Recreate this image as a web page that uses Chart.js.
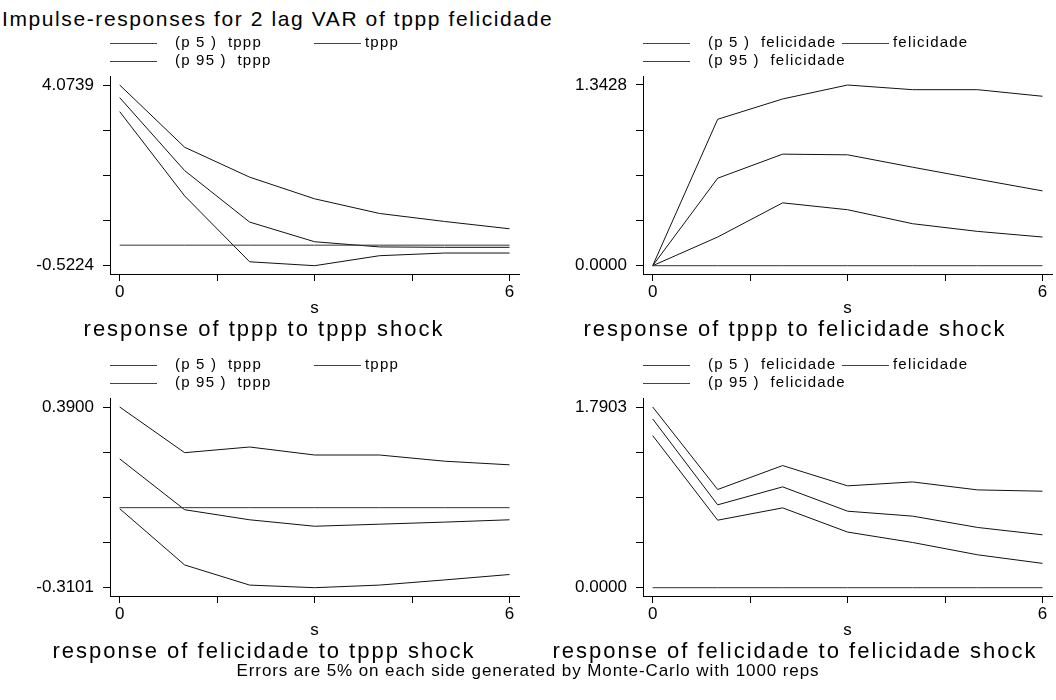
<!DOCTYPE html>
<html lang="en">
<head>
  <meta charset="UTF-8">
  <title>Impulse-responses for 2 lag VAR of tppp felicidade</title>
  <style>
    body {
      margin: 0;
      background: #fff;
    }
    #page {
      position: relative;
      width: 1056px;
      height: 700px;
      overflow: hidden;
      background: #fff;
      font-family: "Liberation Sans", Arial, sans-serif;
      color: #000;
    }
    .txt {
      position: absolute;
      white-space: pre;
      line-height: 1;
    }
    .key {
      position: absolute;
      height: 0;
      border-top: 1px solid #444;
    }
    canvas {
      position: absolute;
    }
  </style>
  <script src="https://cdn.jsdelivr.net/npm/chart.js"></script>
</head>
<body>
  <div id="page"></div>

  <script>
    // horizon steps and axis ticks
    const steps = [0, 1, 2, 3, 4, 5, 6];
    const xTicks = [0, 1.5, 3, 4.5, 6];
    const zeroLine = [0, 0, 0, 0, 0, 0, 0];

    // response of tppp to tppp shock
    const tpppTppp_p5 = [3.396, 1.252, -0.423, -0.5224, -0.268, -0.200, -0.200];
    const tpppTppp_irf = [3.752, 1.896, 0.587, 0.087, -0.045, -0.055, -0.055];
    const tpppTppp_p95 = [4.0739, 2.490, 1.730, 1.179, 0.806, 0.603, 0.417];
    const tpppTppp_range = [-0.5224, 4.0739];

    // response of tppp to felicidade shock
    const tpppFel_p5 = [0, 0.213, 0.467, 0.416, 0.312, 0.255, 0.213];
    const tpppFel_irf = [0, 0.650, 0.829, 0.824, 0.732, 0.643, 0.556];
    const tpppFel_p95 = [0, 1.088, 1.239, 1.3428, 1.308, 1.308, 1.259];
    const tpppFel_range = [0, 1.3428];

    // response of felicidade to tppp shock
    const felTppp_p5 = [-0.004, -0.222, -0.300, -0.3101, -0.300, -0.280, -0.259];
    const felTppp_irf = [0.189, -0.008, -0.047, -0.072, -0.064, -0.056, -0.047];
    const felTppp_p95 = [0.3900, 0.213, 0.235, 0.204, 0.204, 0.180, 0.166];
    const felTppp_range = [-0.3101, 0.3900];

    // response of felicidade to felicidade shock
    const felFel_p5 = [1.507, 0.669, 0.791, 0.551, 0.448, 0.326, 0.241];
    const felFel_irf = [1.672, 0.821, 0.999, 0.758, 0.709, 0.597, 0.524];
    const felFel_p95 = [1.7903, 0.973, 1.210, 1.009, 1.048, 0.969, 0.956];
    const felFel_range = [0, 1.7903];

    const page = document.getElementById("page");
    const FONT = '"Liberation Sans", Arial, sans-serif';

    // place a line of text by its baseline
    function addText(str, x, baseline, size, spacing, align) {
      const d = document.createElement("div");
      d.className = "txt";
      d.textContent = str;
      d.style.fontSize = size + "px";
      d.style.letterSpacing = spacing + "px";
      d.style.top = (baseline - 0.8465 * size) + "px";
      d.style.left = x + "px";
      if (align === "center") d.style.transform = "translateX(-50%)";
      page.appendChild(d);
    }

    function addKey(x1, x2, y) {
      const k = document.createElement("div");
      k.className = "key";
      k.style.left = x1 + "px";
      k.style.width = (x2 - x1) + "px";
      k.style.top = y + "px";
      page.appendChild(k);
    }

    function addLegend(varName, x0, y0) {
      addKey(x0, x0 + 47, y0);
      addText("(p 5 )  " + varName, x0 + 65, y0 + 4, 15, 1.2);
      addKey(x0, x0 + 47, y0 + 18);
      addText("(p 95 )  " + varName, x0 + 65, y0 + 22, 15, 1.2);
      const c2 = varName === "tppp" ? x0 + 204 : x0 + 199;
      addKey(c2, c2 + 47, y0);
      addText(varName, c2 + 51, y0 + 4, 15, 1.2);
    }

    function yTicksFrom(range) {
      const step = (range[1] - range[0]) / 4;
      return [0, 1, 2, 3, 4].map(i => range[0] + i * step);
    }

    function makePanel(p) {
      const cLeft = p.area.l - 110;
      const cTop = p.area.t - 10;
      const w = p.area.r - cLeft + 4;
      const h = p.area.b - cTop + 40;
      const cv = document.createElement("canvas");
      cv.width = w;
      cv.height = h;
      cv.style.left = cLeft + "px";
      cv.style.top = cTop + "px";
      cv.style.width = w + "px";
      cv.style.height = h + "px";
      page.appendChild(cv);

      const areaW = p.area.r - p.area.l;
      const areaH = p.area.b - p.area.t;
      const xppu = (areaW - 9.7 - 9.5) / 6;
      const lo = p.range[0], hi = p.range[1];
      const yppu = (areaH - 9 - 8.3) / (hi - lo);

      const ds = (vals, color) => ({
        data: steps.map((s, i) => ({ x: s, y: vals[i] })),
        borderColor: color,
        borderWidth: 1,
        pointRadius: 0,
        fill: false,
        tension: 0
      });

      const tickFont = { family: FONT, size: 17 };

      new Chart(cv, {
        type: "line",
        data: {
          datasets: [
            ds(zeroLine, "#333"),
            ds(p.p5, "#111"),
            ds(p.irf, "#111"),
            ds(p.p95, "#111")
          ]
        },
        options: {
          responsive: false,
          animation: false,
          devicePixelRatio: 1,
          layout: { padding: { left: 0, top: 10, right: 4, bottom: 0 } },
          plugins: {
            legend: { display: false },
            tooltip: { enabled: false }
          },
          scales: {
            x: {
              type: "linear",
              min: -9.7 / xppu,
              max: 6 + 9.5 / xppu,
              afterBuildTicks: s => { s.ticks = xTicks.map(v => ({ value: v })); },
              afterFit: s => {
                s.height = 40;
                s.paddingLeft = 0;
                s.paddingRight = 0;
              },
              grid: { drawOnChartArea: false, drawTicks: true, tickLength: 7, color: "#000", tickColor: "#000" },
              border: { display: true, color: "#000", width: 1 },
              ticks: {
                autoSkip: false,
                maxRotation: 0,
                padding: 1,
                color: "#000",
                font: tickFont,
                callback: (v, i, t) => (i === 0 || i === t.length - 1) ? String(v) : ""
              }
            },
            y: {
              min: lo - 8.3 / yppu,
              max: hi + 9 / yppu,
              afterBuildTicks: s => { s.ticks = yTicksFrom(p.range).map(v => ({ value: v })); },
              afterFit: s => {
                s.width = 110;
                s.paddingTop = 0;
                s.paddingBottom = 0;
              },
              grid: { drawOnChartArea: false, drawTicks: true, tickLength: 7, color: "#000", tickColor: "#000" },
              border: { display: true, color: "#000", width: 1 },
              ticks: {
                autoSkip: false,
                padding: 9,
                color: "#000",
                font: tickFont,
                callback: (v, i, t) => (i === 0 || i === t.length - 1) ? v.toFixed(4) : ""
              }
            }
          }
        }
      });

      // axis title and panel subtitle
      const mid = p.area.l + 9.7 + 3 * xppu;
      addText("s", mid, p.area.b + 39, 17, 0, "center");
      addText(p.title, p.titleX, p.area.b + 63, 22, 2, "center");
      addLegend(p.varName, p.area.l, p.area.t - 33.5);
    }

    addText("Impulse-responses for 2 lag VAR of tppp felicidade", 2, 26, 21, 1.6, "left");

    makePanel({
      area: { l: 110, r: 519, t: 76, b: 274 },
      p5: tpppTppp_p5, irf: tpppTppp_irf, p95: tpppTppp_p95, range: tpppTppp_range,
      title: "response of tppp to tppp shock", titleX: 264, varName: "tppp"
    });
    makePanel({
      area: { l: 643, r: 1052, t: 76, b: 274 },
      p5: tpppFel_p5, irf: tpppFel_irf, p95: tpppFel_p95, range: tpppFel_range,
      title: "response of tppp to felicidade shock", titleX: 795, varName: "felicidade"
    });
    makePanel({
      area: { l: 110, r: 519, t: 398, b: 596 },
      p5: felTppp_p5, irf: felTppp_irf, p95: felTppp_p95, range: felTppp_range,
      title: "response of felicidade to tppp shock", titleX: 264, varName: "tppp"
    });
    makePanel({
      area: { l: 643, r: 1052, t: 398, b: 596 },
      p5: felFel_p5, irf: felFel_irf, p95: felFel_p95, range: felFel_range,
      title: "response of felicidade to felicidade shock", titleX: 795, varName: "felicidade"
    });

    addText("Errors are 5% on each side generated by Monte-Carlo with 1000 reps", 528, 676, 17, 0.9, "center");
  </script>
</body>
</html>
